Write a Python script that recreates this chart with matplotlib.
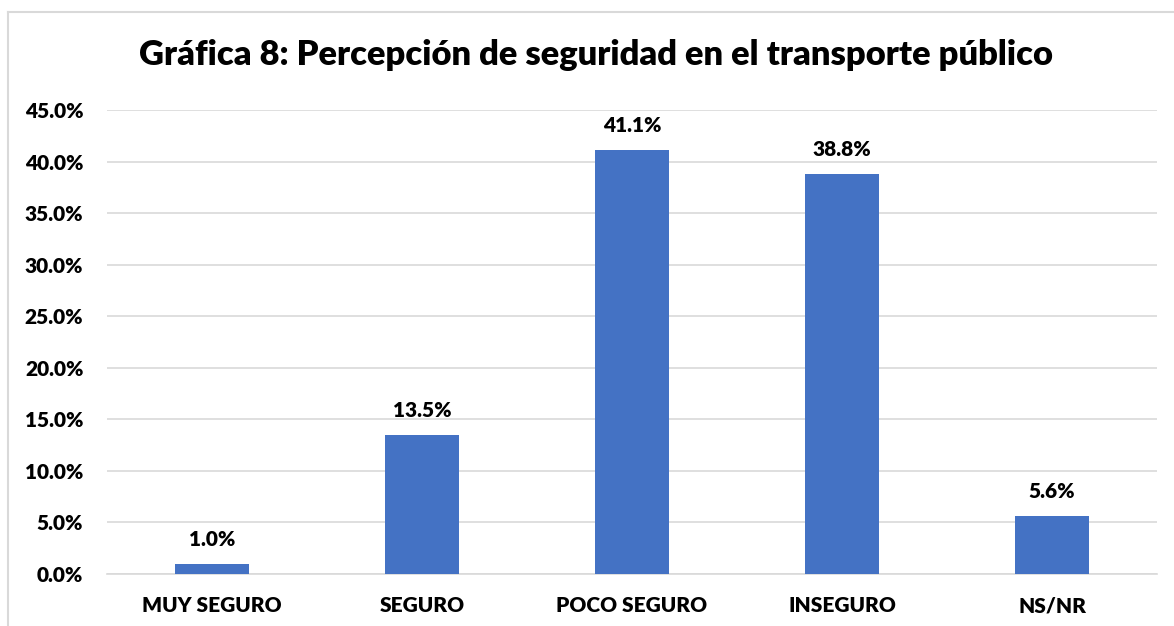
import matplotlib
matplotlib.use("Agg")
import matplotlib.pyplot as plt
from matplotlib.lines import Line2D
from matplotlib.ticker import FuncFormatter

categories = ["MUY SEGURO", "SEGURO", "POCO SEGURO", "INSEGURO", "NS/NR"]
values = [1.0, 13.5, 41.1, 38.8, 5.6]
yticks = [0, 5, 10, 15, 20, 25, 30, 35, 40, 45]
title = "Gráfica 8: Percepción de seguridad en el transporte público"

BAR = "#4472C4"
GRID = "#D9D9D9"
FONT = ["Lato", "DejaVu Sans"]
WEIGHT = "heavy"
LBL = 15

plt.rcParams["font.family"] = FONT
plt.rcParams["font.weight"] = WEIGHT

W, H = 1174, 626
fig = plt.figure(figsize=(W / 100, H / 100), dpi=100)
ax = fig.add_axes([107 / W, 1 - 574 / H, (1157 - 107) / W, (574 - 110) / H])

x = range(len(categories))
ax.bar(x, values, width=0.35, color=BAR, zorder=3)
for xi, v in zip(x, values):
    ax.annotate(f"{v:.1f}%", (xi, v), xytext=(0, 13), textcoords="offset points",
                ha="center", va="baseline", fontsize=LBL, fontweight=WEIGHT)

ax.set_xlim(-0.5, len(categories) - 0.5)
ax.set_ylim(0, 45)
ax.set_yticks(yticks)
ax.yaxis.set_major_formatter(FuncFormatter(lambda v, _: f"{v:.1f}%"))
ax.set_xticks(list(x))
ax.set_xticklabels(categories)
ax.tick_params(axis="y", length=0, pad=17, labelsize=LBL)
ax.tick_params(axis="x", length=0, pad=16, labelsize=LBL)
ax.grid(axis="y", color=GRID, lw=1.2, zorder=0)
for s in ("top", "right", "left"):
    ax.spines[s].set_visible(False)
ax.spines["bottom"].set_color(GRID)
ax.spines["bottom"].set_linewidth(1.2)

fig.text(596 / W, 1 - 55 / H, title, ha="center", va="center",
         fontsize=24.8, fontweight=WEIGHT)

# chart-area border (left and top edges visible only)
fig.add_artist(Line2D([7.5 / W, 7.5 / W], [0, 1 - 11.5 / H], color=GRID, lw=1.5,
                      transform=fig.transFigure))
fig.add_artist(Line2D([7.5 / W, 1], [1 - 11.5 / H, 1 - 11.5 / H], color=GRID, lw=1.5,
                      transform=fig.transFigure))

fig.savefig("out.png", dpi=100)
